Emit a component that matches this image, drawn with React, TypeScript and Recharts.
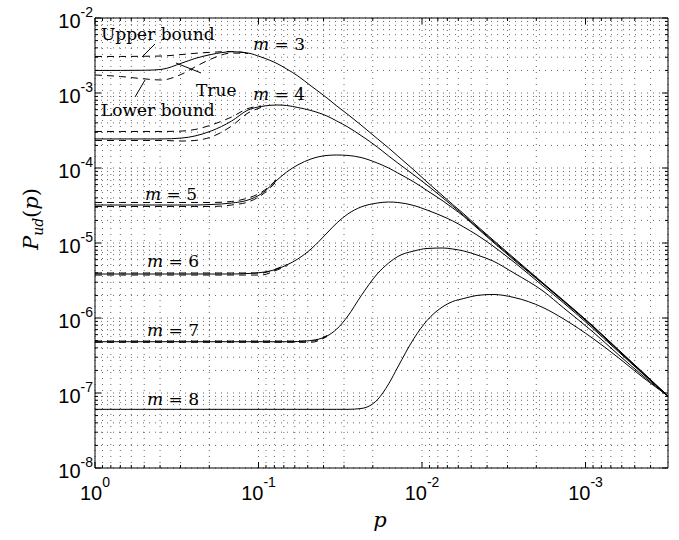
import React from "react";
import { CartesianGrid, Line, LineChart, ReferenceDot, ReferenceLine, XAxis, YAxis } from "recharts";

// p samples (x axis, shown reversed: 1 on the left)
const P_MIN = 0.000313;
const pGrid = [
  1, 0.7, 0.494, 0.395, 0.294, 0.245, 0.195, 0.146, 0.116, 0.0965, 0.077, 0.0672, 0.0575, 0.0477,
  0.0381, 0.0332, 0.0284, 0.0236, 0.0188, 0.016, 0.01406, 0.01121, 0.00932, 0.00744, 0.00649,
  0.00555, 0.00461, 0.00368, 0.00274, 0.00182, 0.00136, 0.0009, 0.000626, 0.000445, 0.000313,
];

// true P_ud(p) curves, one per m
const trueM3 = [
  2.0e-3, 2.0e-3, 2.01e-3, 2.06e-3, 2.51e-3, 2.88e-3, 3.26e-3, 3.55e-3, 3.41e-3, 3.02e-3, 2.47e-3,
  2.09e-3, 1.69e-3, 1.24e-3, 8.58e-4, 6.71e-4, 5.17e-4, 3.74e-4, 2.47e-4, 1.85e-4, 1.445e-4, 9.4e-5,
  6.51e-5, 4.23e-5, 3.26e-5, 2.44e-5, 1.69e-5, 1.1e-5, 6.31e-6, 2.93e-6, 1.71e-6, 7.82e-7, 3.74e-7,
  1.88e-7, 9.12e-8,
];
const trueM4 = [
  2.44e-4, 2.44e-4, 2.44e-4, 2.44e-4, 2.51e-4, 2.67e-4, 3.11e-4, 4.23e-4, 5.93e-4, 6.61e-4, 6.92e-4,
  6.81e-4, 6.41e-4, 5.84e-4, 4.93e-4, 4.23e-4, 3.52e-4, 2.71e-4, 1.91e-4, 1.445e-4, 1.166e-4, 8.07e-5,
  5.93e-5, 3.98e-5, 3.11e-5, 2.33e-5, 1.63e-5, 1.063e-5, 6.12e-6, 2.88e-6, 1.69e-6, 7.7e-7, 3.69e-7,
  1.85e-7, 9.12e-8,
];
const trueM5 = [
  3.21e-5, 3.21e-5, 3.21e-5, 3.21e-5, 3.21e-5, 3.21e-5, 3.26e-5, 3.41e-5, 3.74e-5, 4.5e-5, 6.92e-5,
  8.85e-5, 1.1e-4, 1.32e-4, 1.47e-4, 1.49e-4, 1.47e-4, 1.38e-4, 1.166e-4, 1.0e-4, 8.58e-5, 6.51e-5,
  5.01e-5, 3.63e-5, 2.93e-5, 2.26e-5, 1.585e-5, 1.031e-5, 5.93e-6, 2.84e-6, 1.66e-6, 7.59e-7, 3.63e-7,
  1.82e-7, 9.12e-8,
];
const trueM6 = [
  3.86e-6, 3.86e-6, 3.86e-6, 3.86e-6, 3.86e-6, 3.86e-6, 3.86e-6, 3.86e-6, 3.92e-6, 4.04e-6, 4.5e-6,
  5.09e-6, 6.12e-6, 8.32e-6, 1.36e-5, 1.85e-5, 2.44e-5, 3.02e-5, 3.41e-5, 3.52e-5, 3.47e-5, 3.16e-5,
  2.75e-5, 2.26e-5, 1.97e-5, 1.63e-5, 1.28e-5, 9.12e-6, 5.58e-6, 2.67e-6, 1.585e-6, 7.24e-7, 3.52e-7,
  1.79e-7, 9.12e-8,
];
const trueM7 = [
  4.83e-7, 4.83e-7, 4.83e-7, 4.83e-7, 4.83e-7, 4.83e-7, 4.83e-7, 4.83e-7, 4.83e-7, 4.83e-7, 4.83e-7,
  4.83e-7, 4.86e-7, 5.01e-7, 5.75e-7, 7.13e-7, 1.063e-6, 1.97e-6, 3.86e-6, 5.41e-6, 6.61e-6, 7.82e-6,
  8.45e-6, 8.58e-6, 8.32e-6, 7.82e-6, 6.92e-6, 5.75e-6, 3.98e-6, 2.29e-6, 1.36e-6, 6.51e-7, 3.21e-7,
  1.69e-7, 9.12e-8,
];
const trueM8 = [
  6.06e-8, 6.06e-8, 6.06e-8, 6.06e-8, 6.06e-8, 6.06e-8, 6.06e-8, 6.06e-8, 6.06e-8, 6.06e-8, 6.06e-8,
  6.06e-8, 6.06e-8, 6.06e-8, 6.06e-8, 6.06e-8, 6.06e-8, 6.21e-8, 8.07e-8, 1.32e-7, 2.22e-7, 5.33e-7,
  9.26e-7, 1.42e-6, 1.66e-6, 1.82e-6, 2.0e-6, 2.06e-6, 1.88e-6, 1.38e-6, 9.7e-7, 5.33e-7, 2.93e-7,
  1.61e-7, 9.12e-8,
];

// upper / lower bounds (first points of pGrid only, they merge with the true curve afterwards)
const upperM3 = [3.07e-3, 3.07e-3, 3.09e-3, 3.11e-3, 3.26e-3, 3.38e-3, 3.49e-3, 3.58e-3, 3.41e-3];
const lowerM3 = [1.74e-3, 1.66e-3, 1.54e-3, 1.49e-3, 1.79e-3, 2.22e-3, 2.84e-3, 3.41e-3, 3.36e-3];
const upperM4 = [3.07e-4, 3.07e-4, 3.07e-4, 3.07e-4, 3.11e-4, 3.26e-4, 3.74e-4, 4.79e-4, 6.21e-4, 6.71e-4];
const lowerM4 = [2.33e-4, 2.33e-4, 2.33e-4, 2.33e-4, 2.29e-4, 2.33e-4, 2.59e-4, 3.63e-4, 5.41e-4, 6.41e-4];
const upperM5 = [3.47e-5, 3.47e-5, 3.47e-5, 3.47e-5, 3.47e-5, 3.47e-5, 3.47e-5, 3.58e-5, 3.98e-5, 4.71e-5, 7.1e-5];
const lowerM5 = [3.07e-5, 3.07e-5, 3.07e-5, 3.07e-5, 3.07e-5, 3.07e-5, 3.07e-5, 3.21e-5, 3.52e-5, 4.3e-5, 6.7e-5];
const upperM6 = [3.98e-6, 3.98e-6, 3.98e-6, 3.98e-6, 3.98e-6, 3.98e-6, 3.98e-6, 3.98e-6, 3.98e-6, 3.98e-6, 4.57e-6, 5.17e-6];
const lowerM6 = [3.74e-6, 3.74e-6, 3.74e-6, 3.74e-6, 3.74e-6, 3.74e-6, 3.74e-6, 3.74e-6, 3.74e-6, 3.74e-6, 4.37e-6, 4.93e-6];
const upperM7 = [4.93e-7, 4.93e-7, 4.93e-7, 4.93e-7, 4.93e-7, 4.93e-7, 4.93e-7, 4.93e-7, 4.93e-7, 4.93e-7, 4.93e-7, 4.93e-7, 4.93e-7, 4.93e-7, 5.84e-7];
const lowerM7 = [4.74e-7, 4.74e-7, 4.74e-7, 4.74e-7, 4.74e-7, 4.74e-7, 4.74e-7, 4.74e-7, 4.74e-7, 4.74e-7, 4.74e-7, 4.74e-7, 4.74e-7, 4.74e-7, 5.67e-7];

// decade tick values
const xDecades = [1e-4, 1e-3, 1e-2, 1e-1];
const yDecades = [1e-8, 1e-7, 1e-6, 1e-5, 1e-4, 1e-3];
const digits = [1, 2, 3, 4, 5, 6, 7, 8, 9];

const xTicks = [
  ...xDecades.flatMap((b) => digits.map((k) => Number((k * b).toPrecision(6)))).filter((v) => v >= P_MIN),
  1,
];
const yTicks = [...yDecades.flatMap((b) => digits.map((k) => Number((k * b).toPrecision(6)))), 1e-2];

const solid = [trueM3, trueM4, trueM5, trueM6, trueM7, trueM8];
const dashed = [upperM3, lowerM3, upperM4, lowerM4, upperM5, lowerM5, upperM6, lowerM6, upperM7, lowerM7];

const rows = (vals: number[]) => vals.map((v, i) => ({ p: pGrid[i], v }));

const PLOT_W = 573;
const PLOT_H = 450;
const SANS = "Liberation Sans, Arial, Helvetica, sans-serif";
const SERIF = "DejaVu Serif, serif";

const isMajor = (v: number) => Math.abs(Math.log10(v) - Math.round(Math.log10(v))) < 1e-6;
const expOf = (v: number) => Math.round(Math.log10(v));

const XTick = (props: any) => {
  const { x, y, payload } = props;
  const v = payload.value;
  const major = isMajor(v);
  const len = major ? 6 : 3;
  return (
    <g>
      <line x1={x} x2={x} y1={y} y2={y - len} stroke="#000" />
      <line x1={x} x2={x} y1={y - PLOT_H} y2={y - PLOT_H + len} stroke="#000" />
      {major && (
        <text x={x} y={y + 32} textAnchor="middle" fontFamily={SANS} fill="#000">
          <tspan fontSize={20}>10</tspan>
          <tspan fontSize={14} dy={-13}>{expOf(v)}</tspan>
        </text>
      )}
    </g>
  );
};

const YTick = (props: any) => {
  const { x, y, payload } = props;
  const v = payload.value;
  const major = isMajor(v);
  const len = major ? 6 : 3;
  return (
    <g>
      <line x1={x} x2={x + len} y1={y} y2={y} stroke="#000" />
      <line x1={x + PLOT_W} x2={x + PLOT_W - len} y1={y} y2={y} stroke="#000" />
      {major && (
        <text x={x - 2} y={y + 10} textAnchor="end" fontFamily={SANS} fill="#000">
          <tspan fontSize={20}>10</tspan>
          <tspan fontSize={14} dy={-11}>{expOf(v)}</tspan>
        </text>
      )}
    </g>
  );
};

// text annotations, anchored in data space (left end of the baseline)
const mLabels = [
  { m: 3, p: 0.108, v: 3.74e-3 },
  { m: 4, p: 0.108, v: 8.07e-4 },
  { m: 5, p: 0.494, v: 3.74e-5 },
  { m: 6, p: 0.481, v: 4.79e-6 },
  { m: 7, p: 0.481, v: 5.67e-7 },
  { m: 8, p: 0.481, v: 6.92e-8 },
];
const boundLabels = [
  { text: "Upper bound", p: 0.919, v: 5.09e-3 },
  { text: "True", p: 0.2411, v: 9.12e-4 },
  { text: "Lower bound", p: 0.919, v: 4.93e-4 },
];
const leaders = [
  [{ x: 0.4296, y: 4.5e-3 }, { x: 0.516, y: 3.02e-3 }],
  [{ x: 0.3196, y: 2.51e-3 }, { x: 0.2247, y: 1.85e-3 }],
  [{ x: 0.569, y: 8.85e-4 }, { x: 0.4944, y: 1.49e-3 }],
];

export default function App() {
  return (
    <div style={{ position: "absolute", left: 0, top: 0, width: 679, height: 540, background: "#fff" }}>
      <LineChart width={679} height={540} margin={{ top: 18, right: 11, bottom: 32, left: 35 }}>
        <CartesianGrid stroke="#000" strokeDasharray="1 5" strokeOpacity={0.6} />
        <XAxis
          dataKey="p"
          type="number"
          scale="log"
          domain={[P_MIN, 1]}
          reversed
          allowDataOverflow
          ticks={xTicks}
          interval={0}
          tick={<XTick />}
          tickLine={false}
          tickSize={0}
          tickMargin={0}
          height={40}
          axisLine={{ stroke: "#000" }}
        />
        <YAxis
          type="number"
          scale="log"
          domain={[1e-8, 1e-2]}
          allowDataOverflow
          ticks={yTicks}
          interval={0}
          tick={<YTick />}
          tickLine={false}
          tickSize={0}
          tickMargin={0}
          width={60}
          axisLine={{ stroke: "#000" }}
        />
        <ReferenceLine y={1e-2} stroke="#000" />
        <ReferenceLine x={P_MIN} stroke="#000" />
        {dashed.map((vals, i) => (
          <Line
            key={`b${i}`}
            data={rows(vals)}
            dataKey="v"
            type="monotone"
            stroke="#000"
            strokeWidth={1}
            strokeDasharray="7 5"
            dot={false}
            activeDot={false}
            isAnimationActive={false}
          />
        ))}
        {solid.map((vals, i) => (
          <Line
            key={`t${i}`}
            data={rows(vals)}
            dataKey="v"
            type="monotone"
            stroke="#000"
            strokeWidth={1}
            dot={false}
            activeDot={false}
            isAnimationActive={false}
          />
        ))}
        {leaders.map((seg, i) => (
          <ReferenceLine key={`l${i}`} segment={seg} stroke="#000" />
        ))}
        {mLabels.map((l) => (
          <ReferenceDot
            key={`m${l.m}`}
            x={l.p}
            y={l.v}
            r={0}
            shape={(s: any) => (
              <text x={s.cx} y={s.cy} fontFamily={SERIF} fontSize={17} fill="#000">
                <tspan fontStyle="italic">m</tspan>
                {` = ${l.m}`}
              </text>
            )}
          />
        ))}
        {boundLabels.map((l) => (
          <ReferenceDot
            key={l.text}
            x={l.p}
            y={l.v}
            r={0}
            shape={(s: any) => (
              <text x={s.cx} y={s.cy} fontFamily={SERIF} fontSize={17} fill="#000">
                {l.text}
              </text>
            )}
          />
        ))}
      </LineChart>
      <svg width={679} height={540} style={{ position: "absolute", left: 0, top: 0, pointerEvents: "none" }}>
        <text x={380} y={527} textAnchor="middle" fontFamily={SERIF} fontSize={21} fontStyle="italic">
          p
        </text>
        <text transform="translate(38,219) rotate(-90)" textAnchor="middle" fontFamily={SERIF} fontSize={21}>
          <tspan fontStyle="italic">P</tspan>
          <tspan fontStyle="italic" fontSize={14} dy={5}>ud</tspan>
          <tspan dy={-5}>(</tspan>
          <tspan fontStyle="italic">p</tspan>
          <tspan>)</tspan>
        </text>
      </svg>
    </div>
  );
}
